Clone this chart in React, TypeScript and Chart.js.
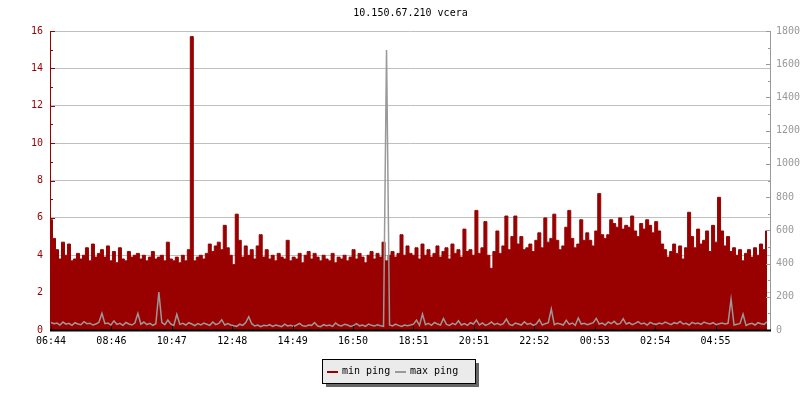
import React, { useEffect, useRef } from "react";
import { Chart, registerables } from "chart.js";

Chart.register(...registerables);

const TITLE = "10.150.67.210 vcera";
const SAMPLE_MINUTES = 6;
const X_MAX = 1440;
const xTickValues = [0, 121, 242, 363, 484, 605, 726, 847, 968, 1089, 1210, 1331];
const xLabels = ["06:44", "08:46", "10:47", "12:48", "14:49", "16:50", "18:51", "20:51", "22:52", "00:53", "02:54", "04:55"];
const seriesNames = ["min ping", "max ping"];

// min ping (left axis, ms)
const minPing = [
  5.9, 4.9, 4.3, 3.8, 4.7, 4.0, 4.6, 3.7, 3.8, 4.1, 3.8, 4.0, 4.4, 3.7, 4.6, 3.9, 4.1, 4.3, 3.9, 4.5,
  3.7, 4.2, 3.6, 4.4, 3.8, 3.7, 4.2, 3.9, 4.0, 4.1, 3.8, 4.0, 3.7, 3.9, 4.2, 3.8, 3.9, 4.0, 3.7, 4.7,
  3.8, 3.7, 3.9, 3.6, 4.0, 3.7, 4.3, 15.7, 3.7, 3.9, 4.0, 3.8, 4.1, 4.6, 4.2, 4.5, 4.7, 4.3, 5.6, 4.4,
  4.0, 3.5, 6.2, 4.8, 3.9, 4.5, 4.0, 4.3, 3.8, 4.5, 5.1, 3.9, 4.3, 3.8, 4.0, 3.7, 4.1, 3.9, 3.8, 4.8,
  3.7, 3.9, 3.8, 4.1, 3.6, 4.0, 4.2, 3.8, 4.1, 3.9, 3.7, 4.0, 3.8, 3.7, 4.1, 3.6, 3.9, 3.8, 4.0, 3.7,
  3.9, 4.3, 3.8, 4.1, 3.9, 3.6, 4.0, 4.2, 3.8, 4.1, 3.9, 4.7, 3.7, 4.0, 4.2, 3.9, 4.1, 5.1, 4.0, 4.5,
  4.1, 4.0, 4.4, 3.8, 4.6, 4.0, 4.3, 3.9, 4.1, 4.5, 3.9, 4.2, 4.4, 3.8, 4.6, 4.1, 4.3, 3.9, 5.4, 4.2,
  4.3, 4.0, 6.4, 4.1, 4.4, 5.8, 4.0, 3.3, 4.2, 5.3, 4.1, 4.5, 6.1, 4.3, 5.0, 6.1, 4.6, 5.0, 4.3, 4.4,
  4.6, 4.2, 4.8, 5.2, 4.4, 6.0, 4.7, 4.9, 6.2, 4.8, 4.3, 4.5, 5.5, 6.4, 4.9, 4.4, 4.6, 5.9, 4.8, 5.2,
  4.8, 4.5, 5.3, 7.3, 5.1, 4.9, 5.1, 5.9, 5.7, 5.5, 6.0, 5.4, 5.6, 5.5, 6.1, 5.3, 5.0, 5.7, 5.4, 5.9,
  5.6, 5.2, 5.8, 5.3, 4.6, 4.3, 3.9, 4.2, 4.6, 4.1, 4.5, 3.8, 4.4, 6.3, 5.0, 4.4, 5.4, 4.6, 4.8, 5.3,
  4.2, 5.6, 4.7, 7.1, 5.3, 4.5, 5.0, 4.2, 4.4, 4.0, 4.3, 3.7, 4.1, 4.3, 3.9, 4.4, 4.0, 4.6, 4.3, 5.3,
];

// max ping (right axis, ms)
const maxPing = [
  45, 38, 42, 30, 48, 35, 40, 28, 44, 36, 32, 50, 38, 41, 30, 36, 46, 100, 38, 42,
  30, 55, 34, 40, 28, 45, 36, 30, 42, 100, 35, 48, 33, 40, 28, 38, 229, 45, 32, 60,
  36, 28, 95, 34, 40, 30, 44, 36, 26, 38, 30, 42, 35, 28, 48, 32, 40, 62, 30, 38,
  30, 25, 22, 35, 28, 45, 80, 38, 24, 30, 20, 28, 25, 32, 22, 30, 26, 20, 35, 24,
  28, 22, 30, 40, 25, 22, 30, 28, 45, 24, 20, 32, 26, 30, 22, 42, 28, 24, 35, 30,
  22, 28, 38, 25, 30, 22, 36, 28, 24, 32, 26, 22, 1686, 30, 24, 35, 28, 22, 30, 26,
  30, 35, 60, 28, 96, 32, 40, 28, 45, 36, 30, 70, 34, 28, 40, 32, 55, 30, 38, 28,
  44, 36, 60, 30, 42, 28, 35, 48, 32, 40, 30, 38, 66, 34, 28, 42, 36, 30, 50, 34,
  40, 28, 36, 62, 30, 38, 44, 126, 32, 40, 36, 30, 58, 34, 42, 28, 72, 36, 40, 32,
  38, 44, 70, 36, 42, 30, 48, 38, 52, 34, 40, 68, 36, 44, 32, 40, 50, 36, 42, 30,
  46, 38, 34, 42, 36, 48, 40, 32, 44, 38, 52, 36, 40, 30, 46, 38, 42, 34, 48, 40,
  36, 44, 32, 38, 42, 36, 40, 185, 30, 34, 40, 96, 28, 36, 40, 30, 44, 38, 34, 50,
];

const RED = "#990000";
const GRAY = "#999999";
const FONT = "'DejaVu Sans Mono', monospace";

const decorPlugin = {
  id: "decor",
  afterDraw(chart: any) {
    const ctx = chart.ctx;
    const { left, right, top, bottom } = chart.chartArea;
    const y = chart.scales.y;
    const y1 = chart.scales.y1;
    const x = chart.scales.x;
    ctx.save();
    // left axis
    ctx.strokeStyle = RED;
    ctx.lineWidth = 1;
    ctx.beginPath();
    ctx.moveTo(left - 0.5, top);
    ctx.lineTo(left - 0.5, bottom);
    for (let v = 0; v <= 16; v += 1) {
      const py = Math.round(y.getPixelForValue(v)) + 0.5;
      ctx.moveTo(left - 1, py);
      ctx.lineTo(left + (v % 2 === 0 ? 4 : 2), py);
    }
    ctx.stroke();
    // right axis
    ctx.strokeStyle = GRAY;
    ctx.beginPath();
    ctx.moveTo(right + 0.5, top);
    ctx.lineTo(right + 0.5, bottom);
    for (let v = 0; v <= 1800; v += 100) {
      const py = Math.round(y1.getPixelForValue(v)) + 0.5;
      ctx.moveTo(right + 1, py);
      ctx.lineTo(right - (v % 200 === 0 ? 4 : 2), py);
    }
    ctx.stroke();
    // bottom axis
    ctx.strokeStyle = "#000";
    ctx.lineWidth = 2;
    ctx.beginPath();
    ctx.moveTo(left - 1, bottom + 0.5);
    ctx.lineTo(right + 1, bottom + 0.5);
    ctx.stroke();
    ctx.lineWidth = 1;
    ctx.beginPath();
    for (const v of xTickValues) {
      const px = Math.round(x.getPixelForValue(v)) + 0.5;
      ctx.moveTo(px, bottom);
      ctx.lineTo(px, bottom - 4);
    }
    ctx.stroke();
    // title
    ctx.fillStyle = "#000";
    ctx.font = `10px ${FONT}`;
    ctx.textAlign = "center";
    ctx.textBaseline = "middle";
    ctx.fillText(TITLE, (left + right) / 2, 13);
    // legend
    const lx = 322, ly = 359, lw = 153, lh = 24;
    ctx.fillStyle = "#666666";
    ctx.fillRect(lx + 4, ly + 4, lw, lh);
    ctx.fillStyle = "#EBEBEB";
    ctx.fillRect(lx, ly, lw, lh);
    ctx.strokeStyle = "#000";
    ctx.lineWidth = 1;
    ctx.strokeRect(lx + 0.5, ly + 0.5, lw, lh);
    const colors = [RED, GRAY];
    const swatchX = [327, 395];
    ctx.textAlign = "left";
    ctx.textBaseline = "middle";
    seriesNames.forEach((name, i) => {
      ctx.fillStyle = colors[i];
      ctx.fillRect(swatchX[i], 371, 11, 2);
      ctx.fillStyle = "#000";
      ctx.fillText(name, swatchX[i] + 15, 371.5);
    });
    ctx.restore();
  },
};

export default function App() {
  const ref = useRef<HTMLCanvasElement | null>(null);
  useEffect(() => {
    if (!ref.current) return;
    const minData = minPing.map((v, i) => ({ x: i * SAMPLE_MINUTES, y: v }));
    const maxData = maxPing.map((v, i) => ({ x: i * SAMPLE_MINUTES, y: v }));
    const chart = new Chart(ref.current, {
      type: "line",
      data: {
        datasets: [
          {
            label: seriesNames[0],
            data: minData,
            yAxisID: "y",
            borderColor: RED,
            backgroundColor: RED,
            borderWidth: 1,
            pointRadius: 0,
            fill: "origin",
            stepped: "middle",
            order: 1,
          },
          {
            label: seriesNames[1],
            data: maxData,
            yAxisID: "y1",
            borderColor: GRAY,
            backgroundColor: GRAY,
            borderWidth: 1.5,
            pointRadius: 0,
            fill: false,
            tension: 0,
            order: 0,
          },
        ],
      },
      options: {
        animation: false,
        responsive: false,
        maintainAspectRatio: false,
        layout: { padding: { top: 31, left: 0, right: 0, bottom: 0 } },
        plugins: {
          legend: { display: false },
          title: { display: false },
          tooltip: { enabled: false },
        },
        scales: {
          x: {
            type: "linear",
            min: 0,
            max: X_MAX,
            grid: { display: false, drawTicks: false },
            border: { display: false },
            afterBuildTicks: (axis: any) => {
              axis.ticks = xTickValues.map((v) => ({ value: v }));
            },
            afterFit: (scale: any) => {
              scale.height = 70;
            },
            ticks: {
              autoSkip: false,
              maxRotation: 0,
              padding: 5,
              color: "#000",
              font: { family: FONT, size: 10 },
              callback: (_v: any, index: number) => xLabels[index],
            },
          },
          y: {
            position: "left",
            min: 0,
            max: 16,
            grid: { color: "#C0C0C0", drawTicks: false, lineWidth: 1 },
            border: { display: false },
            afterFit: (scale: any) => {
              scale.width = 51;
            },
            ticks: {
              stepSize: 2,
              padding: 8,
              color: RED,
              font: { family: FONT, size: 10 },
            },
          },
          y1: {
            position: "right",
            min: 0,
            max: 1800,
            grid: { display: false, drawTicks: false },
            border: { display: false },
            afterFit: (scale: any) => {
              scale.width = 30;
            },
            ticks: {
              stepSize: 200,
              padding: 6,
              color: GRAY,
              font: { family: FONT, size: 10 },
              callback: (v: any) => String(v),
            },
          },
        },
      },
      plugins: [decorPlugin],
    });
    return () => chart.destroy();
  }, []);
  return (
    <div style={{ position: "absolute", left: 0, top: 0, width: 800, height: 400, background: "#fff" }}>
      <canvas ref={ref} width={800} height={400} />
    </div>
  );
}
